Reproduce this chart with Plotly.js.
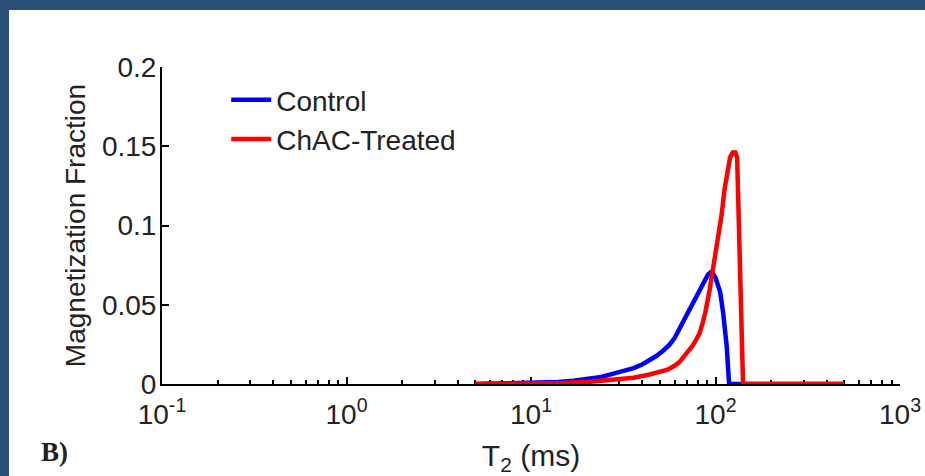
<!DOCTYPE html>
<html>
<head>
<meta charset="utf-8">
<script src="https://cdn.plot.ly/plotly-3.0.1.min.js"></script>
<style>
  html, body { margin: 0; padding: 0; background: #2a5078; width: 925px; height: 476px; overflow: hidden; }
  #chart { position: absolute; left: 9px; top: 10px; width: 916px; height: 466px; background: #fff; }
</style>
</head>
<body>
<div id="chart"></div>
<script>
// T2 relaxation times (ms) and magnetization fractions
const t2Control = [5, 8, 11, 14, 17, 20, 24, 29, 33, 36, 40, 44, 48, 52, 56, 60, 64, 68, 72, 76, 80, 84, 88, 91, 94, 97, 100, 103, 106, 110, 113, 115, 117, 118.5, 125, 500];
const fracControl = [0, 0.0003, 0.0008, 0.0013, 0.002, 0.003, 0.0044, 0.007, 0.0085, 0.010, 0.0123, 0.015, 0.0178, 0.021, 0.0245, 0.029, 0.035, 0.041, 0.046, 0.051, 0.056, 0.061, 0.066, 0.069, 0.0705, 0.0695, 0.067, 0.063, 0.058, 0.045, 0.033, 0.024, 0.01, 0, 0, 0];

const t2Treated = [5, 10, 15, 20, 24, 30, 36, 44, 50, 55, 60, 64, 67, 71, 75, 79, 82, 85, 88, 93, 98, 103, 108, 112, 116, 120, 124, 128, 131, 141, 500];
const fracTreated = [0, 0.0002, 0.0006, 0.0012, 0.002, 0.003, 0.004, 0.006, 0.0075, 0.009, 0.0115, 0.014, 0.017, 0.0205, 0.024, 0.0285, 0.032, 0.038, 0.045, 0.0595, 0.075, 0.091, 0.107, 0.123, 0.135, 0.143, 0.146, 0.146, 0.143, 0, 0];

const seriesNames = ['Control', 'ChAC-Treated'];
const xTickVals = [0.1, 1, 10, 100, 1000];
const xTickText = ['10<sup>-1</sup>', '10<sup>0</sup>', '10<sup>1</sup>', '10<sup>2</sup>', '10<sup>3</sup>'];
const xMinorVals = [];
[0.1, 1, 10, 100].forEach(d => { for (let k = 2; k <= 9; k++) xMinorVals.push(d * k); });
const yTickVals = [0, 0.05, 0.1, 0.15, 0.2];
const yTickText = ['0', '0.05', '0.1', '0.15', '0.2'];

const FONT = 'Arial, "Liberation Sans", sans-serif';

const traces = [
  { x: t2Control, y: fracControl, name: seriesNames[0], type: 'scatter', mode: 'lines',
    line: { color: '#0000ff', width: 4.5 }, cliponaxis: false },
  { x: t2Treated, y: fracTreated, name: seriesNames[1], type: 'scatter', mode: 'lines',
    line: { color: '#ff0000', width: 4.5 }, cliponaxis: false }
];

const layout = {
  width: 916, height: 466,
  margin: { l: 153, r: 25, t: 57, b: 92 },
  paper_bgcolor: '#ffffff', plot_bgcolor: '#ffffff',
  font: { family: FONT, size: 28, color: '#000' },
  showlegend: true,
  legend: { x: 0.087, y: 0.975, xanchor: 'left', yanchor: 'top', bgcolor: 'rgba(0,0,0,0)',
            font: { family: FONT, size: 28, color: '#222' }, itemwidth: 40, tracegroupgap: 0 },
  xaxis: {
    type: 'log', range: [-1, 3], showgrid: false, zeroline: false,
    showline: true, linecolor: '#000', linewidth: 2, layer: 'below traces',
    ticks: 'inside', ticklen: 7, tickwidth: 2, tickcolor: '#000',
    tickmode: 'array', tickvals: xTickVals, ticktext: xTickText,
    tickfont: { family: FONT, size: 28, color: '#222' }, ticklabelstandoff: 4,
    minor: { tickmode: 'array', tickvals: xMinorVals, ticks: 'inside', ticklen: 4, tickwidth: 2, tickcolor: '#000', showgrid: false },
    title: { text: 'T<sub>2</sub> (ms)', font: { family: FONT, size: 30, color: '#222' }, standoff: 20 }
  },
  yaxis: {
    range: [0, 0.2], showgrid: false, zeroline: false,
    showline: true, linecolor: '#000', linewidth: 2, layer: 'below traces',
    ticks: 'inside', ticklen: 7, tickwidth: 2, tickcolor: '#000',
    tickmode: 'array', tickvals: yTickVals, ticktext: yTickText,
    tickfont: { family: FONT, size: 28, color: '#222' }, ticklabelstandoff: -2,
    title: { text: 'Magnetization Fraction', font: { family: FONT, size: 28, color: '#222' }, standoff: 8 }
  },
  annotations: [
    { text: '<b>B)</b>', xref: 'paper', yref: 'paper', x: -0.167, y: -0.215, xanchor: 'left', yanchor: 'middle',
      showarrow: false, font: { family: '"Liberation Serif", "Times New Roman", serif', size: 27, color: '#222' } }
  ]
};

Plotly.newPlot('chart', traces, layout, { displayModeBar: false, staticPlot: true });
</script>
</body>
</html>
